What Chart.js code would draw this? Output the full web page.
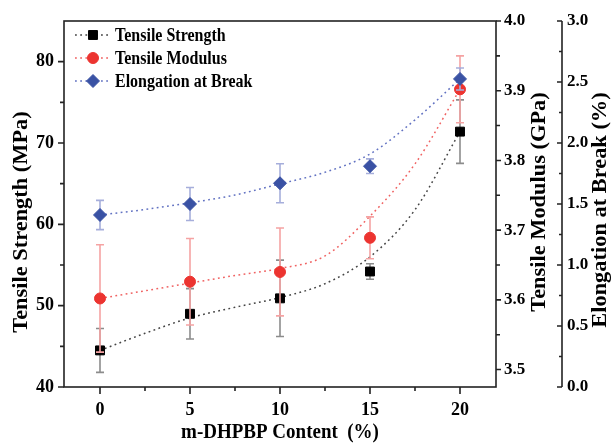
<!DOCTYPE html>
<html>
<head>
<meta charset="utf-8">
<script src="https://cdn.jsdelivr.net/npm/chart.js@4.4.1/dist/chart.umd.min.js"></script>
<style>
  html, body { margin: 0; padding: 0; background: #fff; }
  #wrap { width: 611px; height: 443px; }
</style>
</head>
<body>
<div id="wrap"><canvas id="chart" width="611" height="443"></canvas></div>
<script>
// values
const content = [0, 5, 10, 15, 20];
const strength = [44.5, 49.0, 50.9, 54.2, 71.4];
const strengthErr = [2.7, 3.1, 4.7, 0.95, 3.9];
const modulus = [3.602, 3.626, 3.640, 3.689, 3.902];
const modulusErr = [0.077, 0.062, 0.063, 0.03, 0.048];
const elongation = [1.41, 1.50, 1.67, 1.81, 2.525];
const elongationErr = [0.12, 0.135, 0.16, 0.06, 0.09];

// dotted guide curves (as drawn in the figure, read at these x positions)
const fitContent = [0, 2.5, 5, 7.5, 10, 12.5, 15, 17.5, 20];
const strengthFit = [44.5, 46.6, 48.5, 49.8, 51.0, 52.7, 56.0, 61.8, 71.4];
const modulusFit = [3.602, 3.613, 3.624, 3.635, 3.645, 3.663, 3.72, 3.795, 3.902];
const elongationFit = [1.41, 1.455, 1.51, 1.574, 1.665, 1.76, 1.91, 2.19, 2.525];

// axis ticks
const xTicks = [0, 5, 10, 15, 20];
const xMinor = [2.5, 7.5, 12.5, 17.5];
const strengthTicks = [40, 50, 60, 70, 80];
const strengthMinor = [45, 55, 65, 75];
const modulusTicks = [3.5, 3.6, 3.7, 3.8, 3.9, 4.0];
const modulusMinor = [3.55, 3.65, 3.75, 3.85, 3.95];
const elongationTicks = [0, 0.5, 1.0, 1.5, 2.0, 2.5, 3.0];
const elongationMinor = [0.25, 0.75, 1.25, 1.75, 2.25, 2.75];

const seriesNames = ['Tensile Strength', 'Tensile Modulus', 'Elongation at Break'];

const SERIF = "'Liberation Serif', 'Times New Roman', serif";
const STRETCH = 1.12; // the figure is a bit taller than wide

function pts(xs, ys) {
  return xs.map((x, i) => ({ x: x, y: ys[i] }));
}

function fitSet(ys, axis, color) {
  return {
    data: pts(fitContent, ys), yAxisID: axis, showLine: true,
    borderColor: color, borderWidth: 1.5, borderDash: [1.8, 3.4],
    pointRadius: 0, cubicInterpolationMode: 'monotone', order: 10
  };
}

function markSet(ys, errs, axis, style, color, errColor, radius, order) {
  return {
    data: pts(content, ys), yAxisID: axis, showLine: false,
    pointStyle: style, pointRadius: radius, pointHoverRadius: radius,
    backgroundColor: color, borderColor: color, borderWidth: 1,
    errors: errs, errColor: errColor, order: order
  };
}

// error bars, drawn just before each series' markers
const errorBars = {
  id: 'errorBars',
  beforeDatasetDraw(chart, args) {
    const ds = chart.data.datasets[args.index];
    if (!ds.errors) return;
    const scale = chart.scales[ds.yAxisID];
    const ctx = chart.ctx;
    ctx.save();
    ctx.strokeStyle = ds.errColor;
    ctx.lineWidth = 1.6;
    args.meta.data.forEach((pt, i) => {
      const v = ds.data[i].y, e = ds.errors[i];
      const yTop = scale.getPixelForValue(v + e);
      const yBot = scale.getPixelForValue(v - e);
      ctx.beginPath();
      ctx.moveTo(pt.x, yTop); ctx.lineTo(pt.x, yBot);
      ctx.moveTo(pt.x - 4, yTop); ctx.lineTo(pt.x + 4, yTop);
      ctx.moveTo(pt.x - 4, yBot); ctx.lineTo(pt.x + 4, yBot);
      ctx.stroke();
    });
    ctx.restore();
  }
};

// frame, tick marks, axis titles and legend
const frame = {
  id: 'frame',
  afterDraw(chart) {
    const ctx = chart.ctx;
    const a = chart.chartArea;
    const sx = chart.scales.x, sy = chart.scales.y, s1 = chart.scales.y1, s2 = chart.scales.y2;
    ctx.save();
    ctx.strokeStyle = '#222';
    ctx.lineWidth = 1.6;
    ctx.strokeRect(a.left, a.top, a.right - a.left, a.bottom - a.top);
    ctx.beginPath();
    ctx.moveTo(s2.left, a.top); ctx.lineTo(s2.left, a.bottom);
    function hTick(scale, vals, len) {
      vals.forEach(v => {
        const px = scale.getPixelForValue(v);
        ctx.moveTo(px, a.bottom); ctx.lineTo(px, a.bottom + len);
      });
    }
    function vTick(scale, vals, x0, len) {
      vals.forEach(v => {
        const py = scale.getPixelForValue(v);
        ctx.moveTo(x0, py); ctx.lineTo(x0 + len, py);
      });
    }
    hTick(sx, xTicks, 7);
    hTick(sx, xMinor, 4);
    vTick(sy, strengthTicks, a.left, -6);
    vTick(sy, strengthMinor, a.left, -4);
    vTick(s1, modulusTicks, a.right, 5);
    vTick(s1, modulusMinor, a.right, 4);
    vTick(s2, elongationTicks, s2.left, -5);
    vTick(s2, elongationMinor, s2.left, -3);
    ctx.stroke();

    // axis titles
    ctx.fillStyle = '#000';
    ctx.textAlign = 'center';
    ctx.textBaseline = 'middle';
    ctx.save();
    ctx.font = 'bold 19px ' + SERIF;
    ctx.translate((a.left + a.right) / 2, 433);
    ctx.scale(1, STRETCH);
    ctx.fillText('m-DHPBP Content\u00a0\u00a0(%)', 0, 0);
    ctx.restore();
    ctx.font = 'bold 20px ' + SERIF;
    [['Tensile Strength (MPa)', 22, 222], ['Tensile Modulus (GPa)', 540, 202], ['Elongation at Break (%)', 601, 210]]
      .forEach(t => {
        ctx.save();
        ctx.translate(t[1], t[2]);
        ctx.rotate(-Math.PI / 2);
        ctx.scale(STRETCH, 1);
        ctx.fillText(t[0], 0, 0);
        ctx.restore();
      });

    // legend
    const marks = chart.data.datasets.filter(d => d.errors);
    const fits = chart.data.datasets.filter(d => !d.errors);
    ctx.font = 'bold 16px ' + SERIF;
    ctx.textAlign = 'left';
    marks.forEach((d, i) => {
      const y = 35 + i * 23;
      ctx.save();
      ctx.strokeStyle = fits[i].borderColor;
      ctx.lineWidth = 1.5;
      ctx.setLineDash(fits[i].borderDash);
      ctx.beginPath();
      ctx.moveTo(a.left + 11, y); ctx.lineTo(a.left + 47, y);
      ctx.stroke();
      ctx.restore();
      ctx.fillStyle = d.backgroundColor;
      ctx.strokeStyle = d.borderColor;
      ctx.lineWidth = 1;
      Chart.helpers.drawPoint(ctx, { pointStyle: d.pointStyle, radius: d.pointRadius, borderWidth: 1, rotation: 0 }, a.left + 29, y);
      ctx.fillStyle = '#000';
      ctx.save();
      ctx.translate(a.left + 51, y + 1);
      ctx.scale(1, STRETCH);
      ctx.fillText(seriesNames[i], 0, 0);
      ctx.restore();
    });
    ctx.restore();
  }
};

const tickFont = { family: SERIF, size: 18, weight: 'bold' };
const rightFont = { family: SERIF, size: 17, weight: 'bold' };

new Chart(document.getElementById('chart'), {
  type: 'line',
  data: {
    datasets: [
      fitSet(strengthFit, 'y', '#444444'),
      fitSet(modulusFit, 'y1', '#f06262'),
      fitSet(elongationFit, 'y2', '#6272c2'),
      markSet(strength, strengthErr, 'y', 'rect', '#000000', '#8c8c8c', 6.3, 3),
      markSet(modulus, modulusErr, 'y1', 'circle', '#ec3430', '#f5a3a3', 5.5, 2),
      markSet(elongation, elongationErr, 'y2', 'rectRot', '#3a52a4', '#a6aedb', 6.5, 1)
    ]
  },
  options: {
    responsive: false,
    animation: false,
    events: [],
    layout: { padding: { top: 21, left: 0, right: 0, bottom: 0 } },
    plugins: { legend: { display: false }, tooltip: { enabled: false } },
    scales: {
      x: {
        type: 'linear', min: -2, max: 22,
        grid: { display: false, drawTicks: true, tickLength: 7 },
        border: { display: false },
        afterBuildTicks: s => { s.ticks = xTicks.map(v => ({ value: v })); },
        afterFit: s => { s.height = 56; },
        ticks: { color: '#000', font: tickFont, padding: 6, maxRotation: 0, callback: v => String(v) }
      },
      y: {
        position: 'left', min: 40, max: 85,
        grid: { display: false, drawTicks: true, tickLength: 6 },
        border: { display: false },
        afterBuildTicks: s => { s.ticks = strengthTicks.map(v => ({ value: v })); },
        afterFit: s => { s.width = 64; },
        ticks: { color: '#000', font: tickFont, padding: 4, callback: v => String(v) }
      },
      y1: {
        position: 'right', min: 3.475, max: 4.0, weight: 0,
        grid: { display: false, drawTicks: true, tickLength: 5 },
        border: { display: false },
        afterBuildTicks: s => { s.ticks = modulusTicks.map(v => ({ value: v })); },
        afterFit: s => { s.width = 66; },
        ticks: { color: '#000', font: rightFont, padding: 3, callback: v => v.toFixed(1) }
      },
      y2: {
        position: 'right', min: 0, max: 3.0, weight: 1,
        grid: { display: false, drawTicks: false },
        border: { display: false },
        afterBuildTicks: s => { s.ticks = elongationTicks.map(v => ({ value: v })); },
        afterFit: s => { s.width = 49; },
        ticks: { color: '#000', font: rightFont, padding: 5, callback: v => v.toFixed(1) }
      }
    }
  },
  plugins: [errorBars, frame]
});
</script>
</body>
</html>
